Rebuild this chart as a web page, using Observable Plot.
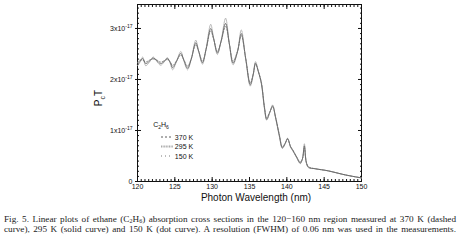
<!DOCTYPE html>
<html><head><meta charset="utf-8">
<script src="https://cdn.jsdelivr.net/npm/d3@7"></script>
<script src="https://cdn.jsdelivr.net/npm/@observablehq/plot@0.6"></script>
<style>
body{margin:0;background:#fff;width:461px;overflow:hidden}
#chart svg{display:block}
#cap{font-family:"Liberation Serif","DejaVu Serif",serif;font-size:9.2px;line-height:10px;color:#222;padding:0 5px 0 4px;margin-top:9px}
#cap div{display:block;text-align:justify;text-align-last:justify;height:10px;overflow:visible}
#cap sub{font-size:6px;line-height:0;vertical-align:-1px}
</style></head>
<body>
<div id="chart"></div>
<div id="cap">
<div>Fig. 5. Linear plots of ethane (C<sub>2</sub>H<sub>6</sub>) absorption cross sections in the 120−160 nm region measured at 370 K (dashed</div>
<div>curve), 295 K (solid curve) and 150 K (dot curve). A resolution (FWHM) of 0.06 nm was used in the measurements.</div>
</div>
<script>
// wavelength (nm)
const wavelength = [120.0,120.3,120.7,121.1,121.6,122.1,122.6,123.1,123.6,124.0,124.4,124.7,125.2,125.8,126.2,126.7,127.2,127.8,128.2,128.7,129.2,129.8,130.2,130.7,131.2,131.8,132.3,132.8,133.4,133.9,134.5,135.1,135.5,135.8,136.2,136.6,137.0,137.3,137.7,138.1,138.5,139.0,139.4,139.8,140.1,140.5,140.8,141.3,141.8,142.1,142.35,142.6,142.9,143.8,145.5,147.8,150.0];
// cross sections in units of 1e-17
const k295 = [2.30,2.35,2.41,2.31,2.36,2.42,2.37,2.31,2.36,2.41,2.33,2.23,2.35,2.51,2.38,2.22,2.40,2.72,2.55,2.33,2.60,3.00,2.80,2.52,2.75,3.10,2.70,2.32,2.55,2.90,2.40,1.90,2.10,2.32,2.15,1.92,1.45,1.22,1.35,1.48,1.25,0.90,0.66,0.75,0.84,0.68,0.61,0.48,0.36,0.45,0.70,0.38,0.28,0.25,0.21,0.13,0.07];
const k370 = [2.33,2.38,2.38,2.34,2.38,2.40,2.38,2.34,2.37,2.39,2.34,2.27,2.36,2.48,2.39,2.26,2.41,2.68,2.55,2.36,2.60,2.95,2.79,2.55,2.75,3.04,2.70,2.36,2.56,2.86,2.41,1.93,2.11,2.30,2.15,1.94,1.47,1.25,1.36,1.46,1.26,0.92,0.68,0.76,0.83,0.69,0.62,0.49,0.38,0.45,0.66,0.39,0.29,0.25,0.21,0.13,0.07];
const k150 = [2.27,2.33,2.44,2.27,2.34,2.44,2.35,2.28,2.35,2.43,2.31,2.19,2.34,2.55,2.37,2.19,2.40,2.77,2.55,2.30,2.62,3.08,2.81,2.49,2.76,3.20,2.70,2.29,2.55,2.97,2.39,1.87,2.09,2.35,2.15,1.90,1.43,1.20,1.34,1.50,1.24,0.88,0.65,0.75,0.85,0.67,0.60,0.47,0.35,0.45,0.74,0.37,0.27,0.25,0.21,0.13,0.07];
const xTicks = [120,125,130,135,140,145,150];
const yTicks = [0,1,2,3];
const legendLabels = ["370 K","295 K","150 K"];

const rows = (arr) => wavelength.map((w,i)=>({w, v: arr[i]}));
const minorX = d3.range(120,150.01,0.5);
const minorY = d3.range(0,3.47,0.1);

const chart = Plot.plot({
  width: 461, height: 205,
  marginLeft: 137, marginRight: 100, marginTop: 4, marginBottom: 24,
  style: {fontFamily: "'Liberation Sans', Arial, sans-serif", fontSize: "7px", background: "#fff", color: "#111"},
  x: {domain: [120,150], label: null},
  y: {domain: [0,3.47], label: null},
  marks: [
    Plot.frame({stroke: "#111", strokeWidth: 1}),
    Plot.axisX(minorX, {anchor: "bottom", tickSize: -2, tickFormat: () => "", stroke: "#111"}),
    Plot.axisX(minorX, {anchor: "top", tickSize: -2, tickFormat: () => "", stroke: "#111"}),
    Plot.axisX(xTicks, {anchor: "bottom", tickSize: -4, tickFormat: () => "", stroke: "#111"}),
    Plot.axisX(xTicks, {anchor: "top", tickSize: -4, tickFormat: () => "", stroke: "#111"}),
    Plot.axisX(xTicks, {anchor: "bottom", tickSize: 0, tickPadding: 3, fontSize: 7}),
    Plot.axisY(minorY, {anchor: "left", tickSize: -2, tickFormat: () => "", stroke: "#111"}),
    Plot.axisY(minorY, {anchor: "right", tickSize: -2, tickFormat: () => "", stroke: "#111"}),
    Plot.axisY(yTicks, {anchor: "left", tickSize: -4, tickFormat: () => "", stroke: "#111"}),
    Plot.axisY(yTicks, {anchor: "right", tickSize: -4, tickFormat: () => "", stroke: "#111"}),
    Plot.axisY(yTicks, {anchor: "left", tickSize: 2, tickPadding: 3, fontSize: 7, tickFormat: d => d === 0 ? "0" : d + "x10"}),
    Plot.line(rows(k150), {x: "w", y: "v", stroke: "#aaa", strokeWidth: 0.9, strokeDasharray: "1,1", curve: "catmull-rom"}),
    Plot.line(rows(k370), {x: "w", y: "v", stroke: "#8a8a8a", strokeWidth: 0.9, strokeDasharray: "2,1.5", curve: "catmull-rom"}),
    Plot.line(rows(k295), {x: "w", y: "v", stroke: "#666", strokeWidth: 0.9, curve: "catmull-rom"})
  ]
});
document.getElementById("chart").appendChild(chart);

const svg = d3.select(chart);
// superscripts on y tick labels
svg.selectAll("text").each(function(){
  const t = d3.select(this);
  const s = t.text();
  if (/^\dx10$/.test(s)) {
    t.append("tspan").attr("dy", "-3").attr("font-size", "5px").text("-17");
  }
});
// axis titles
svg.append("text").attr("x", 256).attr("y", 201).attr("text-anchor","middle")
  .attr("font-size","10px").attr("fill","#111").text("Photon Wavelength (nm)");
const yl = svg.append("text").attr("transform","translate(102,98) rotate(-90)").attr("text-anchor","middle")
  .attr("font-size","10px").attr("fill","#111");
yl.append("tspan").text("P");
yl.append("tspan").attr("dy","2.5").attr("font-size","7px").text("c");
yl.append("tspan").attr("dy","-2.5").text("T");
// legend
const lg = svg.append("g").attr("font-size","7px").attr("fill","#111");
const tt = lg.append("text").attr("x",161).attr("y",127);
tt.append("tspan").text("C");
tt.append("tspan").attr("dy","2").attr("font-size","5px").text("2");
tt.append("tspan").attr("dy","-2").text("H");
tt.append("tspan").attr("dy","2").attr("font-size","5px").text("6");
const styles = [{c:"#333",d:"2,2",w:0.8},{c:"#aaa",d:"1,0.6",w:2},{c:"#555",d:"1,3",w:0.8}];
legendLabels.forEach((lab,i)=>{
  const y = 137 + i*9.5;
  lg.append("line").attr("x1",161).attr("x2",173).attr("y1",y).attr("y2",y)
    .attr("stroke",styles[i].c).attr("stroke-width",styles[i].w).attr("stroke-dasharray",styles[i].d);
  lg.append("text").attr("x",184).attr("y",y+2.5).text(lab);
});
</script>
</body></html>
